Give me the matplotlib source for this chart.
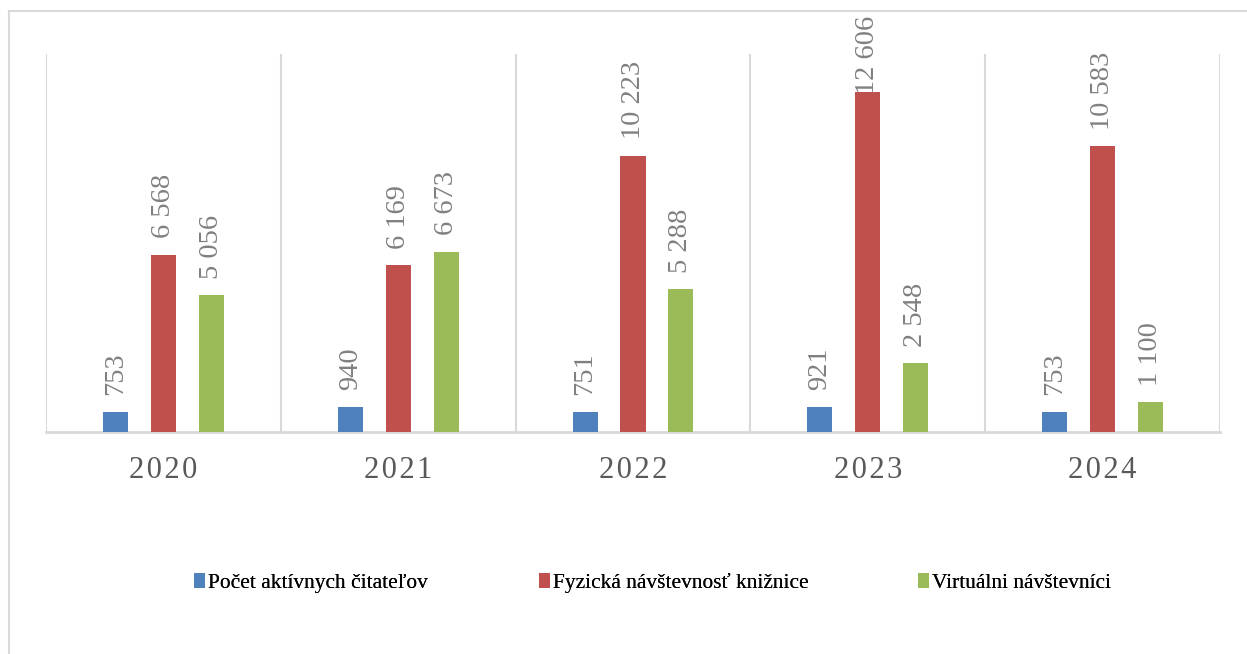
import matplotlib
matplotlib.use("Agg")
import matplotlib.pyplot as plt
import numpy as np
from matplotlib.lines import Line2D

years = ["2020", "2021", "2022", "2023", "2024"]
series = ["Počet aktívnych čitateľov", "Fyzická návštevnosť knižnice", "Virtuálni návštevníci"]
aktivni = [753, 940, 751, 921, 753]
fyzicka = [6568, 6169, 10223, 12606, 10583]
virtualni = [5056, 6673, 5288, 2548, 1100]
values = [aktivni, fyzicka, virtualni]
colors = ["#4f81bd", "#c0504d", "#9bbb59"]

W, H = 1247, 654
DPI = 100
fig = plt.figure(figsize=(W / DPI, H / DPI), dpi=DPI)
plt.rcParams['font.family'] = ['Liberation Serif', 'DejaVu Serif']

def fx(px):
    return px / W

def fy(py):
    return 1 - py / H

ax = fig.add_axes([fx(46), fy(432), fx(1220) - fx(46), fy(54) - fy(432)])
x = np.arange(len(years))
offsets = [-0.204, 0.0, 0.204]
width = 0.107
containers = []
for vals, off, col, name in zip(values, offsets, colors, series):
    c = ax.bar(x + off, vals, width=width, color=col, label=name, zorder=3)
    containers.append(c)

ax.set_xlim(-0.5, len(years) - 0.5)
ax.set_ylim(0, 14000)
ax.set_yticks([])
ax.set_xticks(x)
spaced = ["\u200a".join(y) for y in years]
ax.set_xticklabels(spaced, fontsize=22, color="#595959")
ax.tick_params(axis='x', length=0, pad=17)
for b in np.arange(-0.5, len(years), 1.0):
    ax.axvline(b, color="#d9d9d9", lw=1.5, zorder=1)
for s in ["top", "right", "left"]:
    ax.spines[s].set_visible(False)
ax.spines["bottom"].set_color("#d9d9d9")
ax.spines["bottom"].set_linewidth(2)

fig.canvas.draw()
renderer = fig.canvas.get_renderer()
for c, vals in zip(containers, values):
    for rect, v in zip(c, vals):
        cx = rect.get_x() + rect.get_width() / 2
        t = ax.annotate(f"{v:,}".replace(",", " "), (cx, v), xytext=(0, 12),
                        textcoords="offset points", rotation=90,
                        ha="center", va="bottom", fontsize=20.5, color="#808080",
                        annotation_clip=False)
        bb = t.get_window_extent(renderer)
        limit = H - 18
        if bb.y1 > limit:
            shift = (bb.y1 - limit) * 72 / DPI
            t.set_position((0, max(-2, 12 - shift)))

# legend
leg_x = [194, 539, 918]
for c, name, lx in zip(containers, series, leg_x):
    lg = fig.legend(handles=[c], labels=[name], loc="center left",
                    bbox_to_anchor=(fx(lx), fy(583)), frameon=False,
                    fontsize=15.4, handlelength=0.5, handleheight=0.7,
                    handletextpad=0.15, borderpad=0, borderaxespad=0)
    fig.add_artist(lg)

# outer frame
fig.add_artist(Line2D([fx(9), fx(9)], [fy(11), 0], color="#d9d9d9", lw=1.5, transform=fig.transFigure))
fig.add_artist(Line2D([fx(9), 1], [fy(11), fy(11)], color="#d9d9d9", lw=1.5, transform=fig.transFigure))

fig.savefig("out.png", dpi=DPI)
